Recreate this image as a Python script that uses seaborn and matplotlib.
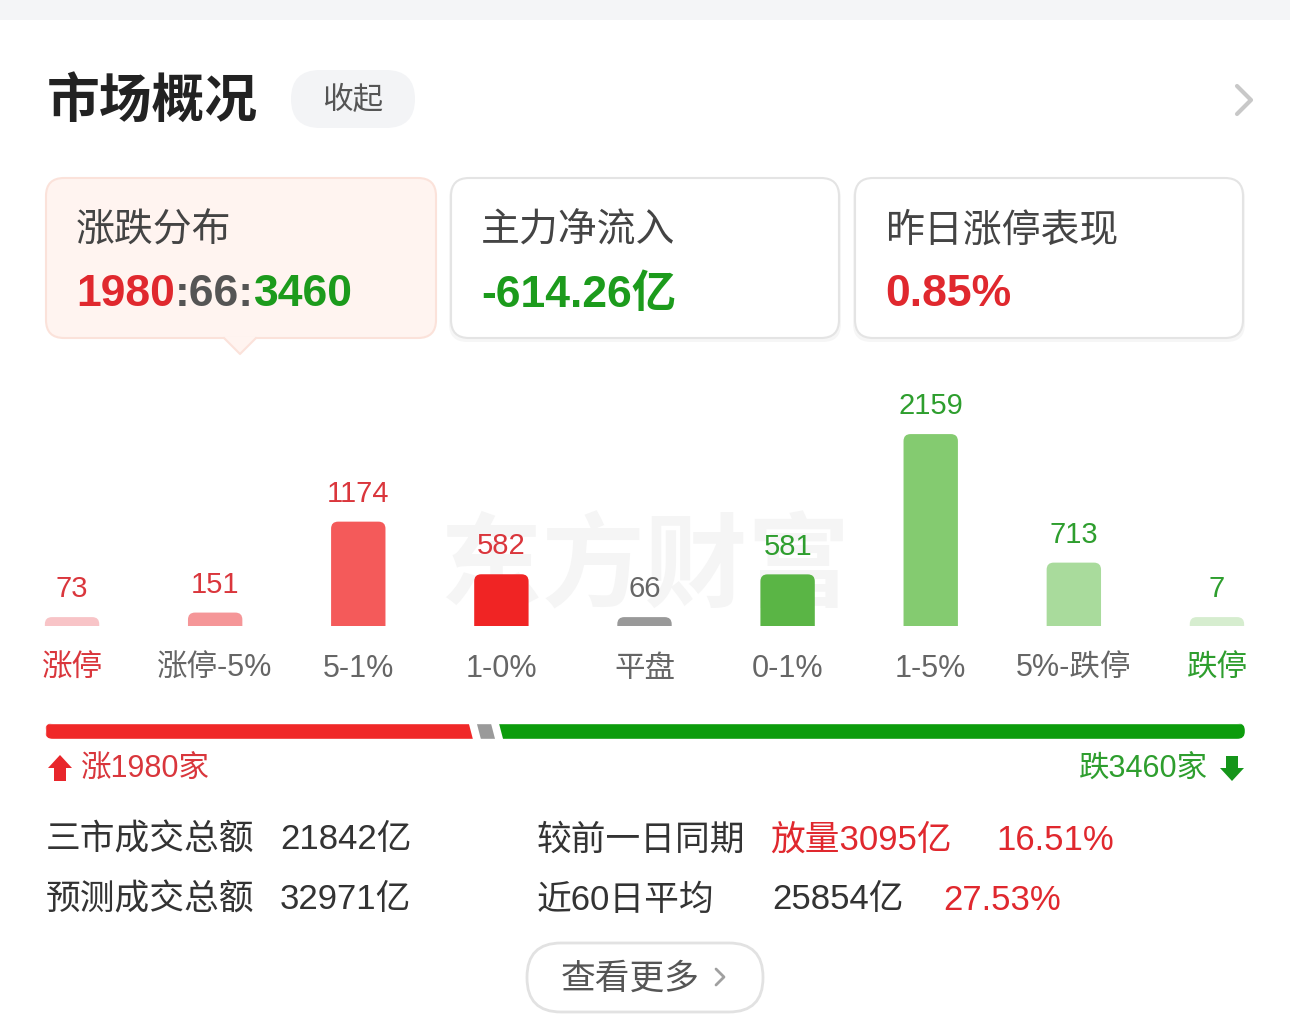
import matplotlib
matplotlib.use('Agg')
import matplotlib.pyplot as plt
from matplotlib.patches import FancyBboxPatch, Polygon, Rectangle
import numpy as np
import pandas as pd
import seaborn as sns

# ── Datos ────────────────────────────────────────────────────────────────────
categories = ['涨停', '涨停-5%', '5-1%', '1-0%', '平盘', '0-1%', '1-5%', '5%-跌停', '跌停']
counts = [73, 151, 1174, 582, 66, 581, 2159, 713, 7]
up_count, flat_count, down_count = 1980, 66, 3460
net_inflow = -614.26
prev_limit_perf = 0.85
turnover_total = 21842
turnover_pred = 32971
vol_change = 3095
vol_change_pct = 16.51
avg60 = 25854
avg60_pct = 27.53

bar_colors = ['#F8C4C7', '#F59698', '#F45A5A', '#F02424', '#999999',
              '#5AB545', '#84CB70', '#A9DB9C', '#D6EDCF']
label_colors = ['#DA363C'] * 4 + ['#666666'] + ['#2E9E2E'] * 4
cat_colors = ['#DA363C'] + ['#666666'] * 7 + ['#2E9E2E']

RED = '#E0282E'
GREEN = '#1C9B1C'
DARK = '#333333'
W, H = 1290, 1018

sns.set_style('white')
plt.rcParams['font.family'] = ['Liberation Sans', 'Noto Sans CJK SC', 'DejaVu Sans']

fig = plt.figure(figsize=(W / 100, H / 100), dpi=100)
fig.patch.set_facecolor('white')


def px_axes(x, y, w, h):
    return fig.add_axes([x / W, 1 - (y + h) / H, w / W, h / H])


# ── Lienzo en píxeles para la interfaz ───────────────────────────────────────
cv = fig.add_axes([0, 0, 1, 1])
cv.set_xlim(0, W)
cv.set_ylim(H, 0)
cv.axis('off')

cv.add_patch(Rectangle((0, 0), W, 20, fc='#F4F5F7', ec='none'))
cv.text(47, 102, '市场概况', fontsize=38, fontweight='bold', color='#222222', va='center')
cv.add_patch(FancyBboxPatch((291, 70), 124, 58, boxstyle='round,pad=0,rounding_size=29',
                            fc='#F3F4F6', ec='none'))
cv.text(353, 101, '收起', fontsize=22, color='#555555', va='center', ha='center')
cv.plot([1237, 1251, 1237], [86, 100, 114], color='#C8C8C8', lw=3, solid_capstyle='round')

# tarjetas
cv.add_patch(FancyBboxPatch((46, 178), 390, 160, boxstyle='round,pad=0,rounding_size=18',
                            fc='#FFF4F0', ec='#FBE2DA', lw=1.5))
cv.add_patch(Polygon([(224, 337), (240, 354), (256, 337)], closed=True, fc='#FFF4F0', ec='none'))
cv.plot([224, 240, 256], [338, 354, 338], color='#FBE2DA', lw=1.5)
for x0 in (451, 855):
    cv.add_patch(FancyBboxPatch((x0 - 2, 180), 392, 162, boxstyle='round,pad=0,rounding_size=18',
                                fc='black', ec='none', alpha=0.035))
    cv.add_patch(FancyBboxPatch((x0, 178), 388, 160, boxstyle='round,pad=0,rounding_size=18',
                                fc='white', ec='#E4E4E4', lw=1.5))

cv.text(76, 231, '涨跌分布', fontsize=28, color='#444444', va='center')
cv.text(481, 231, '主力净流入', fontsize=28, color='#444444', va='center')
cv.text(885, 231, '昨日涨停表现', fontsize=28, color='#444444', va='center')

vfs = 32
t = cv.text(76, 295, f'{up_count}', fontsize=vfs, fontweight='bold', color=RED, va='center')
t = cv.annotate(f':{flat_count}:', xy=(1, 0.5), xycoords=t, fontsize=vfs, fontweight='bold',
                color='#555555', va='center')
cv.annotate(f'{down_count}', xy=(1, 0.5), xycoords=t, fontsize=vfs, fontweight='bold',
            color=GREEN, va='center')
cv.text(481, 295, f'{net_inflow:.2f}亿', fontsize=vfs, fontweight='bold', color=GREEN, va='center')
cv.text(885, 295, f'{prev_limit_perf:.2f}%', fontsize=vfs, fontweight='bold', color=RED, va='center')

# marca de agua
cv.text(645, 572, '东方财富', fontsize=74, fontweight='bold', color='#F5F5F5',
        ha='center', va='center')

# ── Gráfico de barras ────────────────────────────────────────────────────────
df = pd.DataFrame({'cat': categories, 'n': counts})
df['shown'] = np.maximum(df['n'], 100)

ax = px_axes(0.5, 386, 1288, 240)
sns.barplot(data=df, x='cat', y='shown', hue='cat', palette=dict(zip(categories, bar_colors)),
            width=0.38, saturation=1, legend=False, ax=ax)
ax.set_xlim(-0.5, 8.5)
ax.set_ylim(0, 2700)
ax.set_facecolor('none')
ax.axis('off')

p0 = ax.transData.transform((0, 0))
p1 = ax.transData.transform((1, 1))
sx, sy = p1[0] - p0[0], p1[1] - p0[1]
rx, ry = 7 / sx, 7 / sy
for p in list(ax.patches):
    x, w, h = p.get_x(), p.get_width(), p.get_height()
    i = int(round(x + w / 2))
    p.set_visible(False)
    ax.add_patch(FancyBboxPatch((x, -ry), w, h + ry,
                                boxstyle=f'round,pad=0,rounding_size={rx}',
                                mutation_aspect=ry / rx, fc=p.get_facecolor(), ec='none'))
    ax.annotate(f'{counts[i]}', (x + w / 2, h), xytext=(0, 20), textcoords='offset points',
                ha='center', va='center', fontsize=21, color=label_colors[i])
    ax.annotate(categories[i], (x + w / 2, 0), xytext=(0, -31), textcoords='offset points',
                ha='center', va='center', fontsize=22, color=cat_colors[i],
                annotation_clip=False)

# ── Barra de proporción ──────────────────────────────────────────────────────
total = up_count + flat_count + down_count
bw = 1200
gap = total * 8 / (bw - 16)
xmax = total + 2 * gap
slant = 5 * xmax / bw
bax = px_axes(45, 723, bw, 16)
widths = [up_count + gap / 2, flat_count + gap, down_count + gap / 2]
lefts = [0, widths[0], widths[0] + widths[1]]
bars = bax.barh(0.5, widths, left=lefts, height=1, color=['#F02828', '#9A9A9A', '#0C9C0C'])
bax.set_xlim(0, xmax)
bax.set_ylim(0, 1)
bax.axis('off')
brx, bry = 8 * xmax / bw, 0.5
clip = FancyBboxPatch((0, 0), xmax, 1, boxstyle=f'round,pad=0,rounding_size={brx}',
                      mutation_aspect=bry / brx, transform=bax.transData)
for b in bars:
    b.set_clip_path(clip)
for b in (widths[0], widths[0] + widths[1]):
    bax.add_patch(Polygon([(b - gap / 2 - slant / 2, 1.1), (b + gap / 2 - slant / 2, 1.1),
                           (b + gap / 2 + slant / 2, -0.1), (b - gap / 2 + slant / 2, -0.1)],
                          closed=True, fc='white', ec='none'))

# flechas y totales
cv.add_patch(Polygon([(48, 768), (60, 755), (72, 768), (66, 768), (66, 781), (54, 781), (54, 768)],
                     closed=True, fc='#E8262B', ec='none'))
cv.text(81, 770, f'涨{up_count}家', fontsize=22, color='#D9363C', va='center')
cv.add_patch(Polygon([(1220, 768), (1232, 781), (1244, 768), (1238, 768), (1238, 756),
                      (1226, 756), (1226, 768)], closed=True, fc='#15951A', ec='none'))
cv.text(1208, 770, f'跌{down_count}家', fontsize=22, color='#2E9E2E', va='center', ha='right')

# ── Estadísticas ─────────────────────────────────────────────────────────────
fs = 25
cv.text(46, 840, '三市成交总额', fontsize=fs, color=DARK, va='center')
cv.text(280, 840, f'{turnover_total}亿', fontsize=fs, color=DARK, va='center')
cv.text(537, 840, '较前一日同期', fontsize=fs, color=DARK, va='center')
cv.text(770, 840, f'放量{vol_change}亿', fontsize=fs, color=RED, va='center')
cv.text(996, 840, f'{vol_change_pct:.2f}%', fontsize=fs, color=RED, va='center')

cv.text(46, 900, '预测成交总额', fontsize=fs, color=DARK, va='center')
cv.text(280, 900, f'{turnover_pred}亿', fontsize=fs, color=DARK, va='center')
cv.text(537, 900, '近60日平均', fontsize=fs, color=DARK, va='center')
cv.text(772, 900, f'{avg60}亿', fontsize=fs, color=DARK, va='center')
cv.text(943, 900, f'{avg60_pct:.2f}%', fontsize=fs, color=RED, va='center')

# botón
cv.add_patch(FancyBboxPatch((527, 943), 236, 69, boxstyle='round,pad=0,rounding_size=34',
                            fc='white', ec='#E2E2E2', lw=2))
cv.text(561, 979, '查看更多', fontsize=25, color='#555555', va='center')
cv.plot([716, 724, 716], [969, 977, 985], color='#A0A0A0', lw=2)

fig.savefig('out.png', dpi=100)
